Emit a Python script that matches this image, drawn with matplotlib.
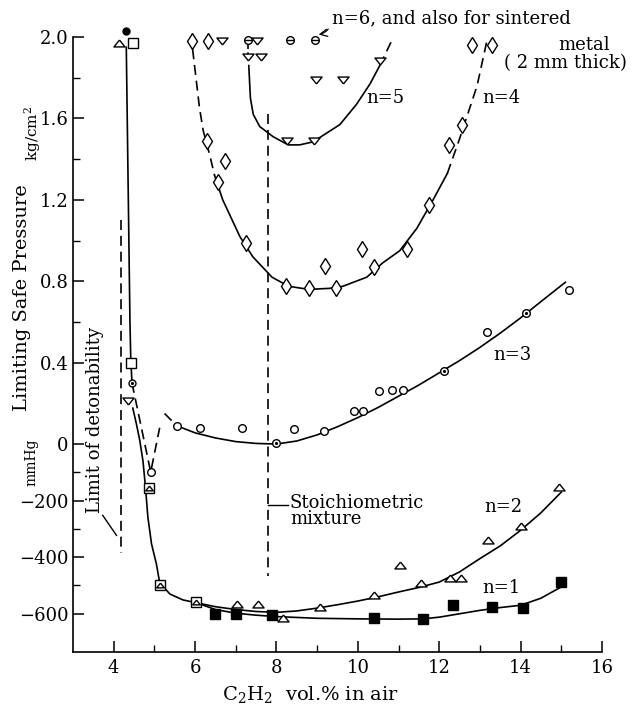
import matplotlib.pyplot as plt

plt.rcParams['font.family'] = ['DejaVu Serif']
plt.rcParams['mathtext.fontset'] = 'dejavuserif'

MMHG = 0.00139  # kg/cm2 per mmHg on the chart's pressure axis


def mm(vals):
    return [v * MMHG for v in vals]


# n=1 (filled squares), mmHg
n1_x = [6.5, 7.0, 7.9, 10.4, 11.6, 12.35, 13.3, 14.05, 15.0]
n1_y = [-600, -600, -605, -615, -617, -570, -575, -578, -487]
n1_cx = [6.03, 6.5, 7.0, 7.5, 8.0, 9.0, 10.0, 11.0, 11.6, 12.0, 12.5, 13.0, 13.5, 14.0, 14.5, 15.0]
n1_cy = [-561, -585, -598, -605, -610, -616, -618, -619, -618, -612, -600, -588, -578, -570, -545, -505]

# n=2 (triangles), mmHg
n2_x = [7.02, 7.54, 8.16, 9.07, 10.39, 11.03, 11.55, 12.26, 12.53, 13.2, 14.0, 14.95]
n2_y = [-564, -564, -614, -575, -533, -426, -490, -472, -472, -338, -291, -153]
n2_cx = [6.03, 6.5, 7.0, 7.5, 8.0, 8.5, 9.0, 9.5, 10.0, 10.5, 11.0, 11.5, 12.0, 12.5, 13.0, 13.5, 14.0, 14.5, 15.0]
n2_cy = [-561, -575, -585, -592, -595, -590, -580, -568, -555, -540, -523, -507, -488, -452, -405, -360, -305, -243, -170]

# n=3 (circles), kg/cm2
n3_x = [5.55, 6.13, 7.15, 7.98, 8.43, 9.16, 9.9, 10.12, 10.52, 10.84, 11.11, 12.11, 13.17, 14.13, 15.19]
n3_y = [0.09, 0.08, 0.08, 0.005, 0.075, 0.065, 0.16, 0.16, 0.26, 0.265, 0.265, 0.36, 0.55, 0.645, 0.755]
n3_dot_x = [7.98, 12.11, 14.13]
n3_dot_y = [0.005, 0.36, 0.645]
n3_cx = [5.55, 6.0, 6.5, 7.0, 7.5, 8.0, 8.5, 9.0, 9.5, 10.0, 10.5, 11.0, 11.5, 12.0, 12.5, 13.0, 13.5, 14.0, 14.5, 15.1]
n3_cy = [0.09, 0.055, 0.03, 0.012, 0.003, 0.0, 0.015, 0.045, 0.085, 0.13, 0.18, 0.235, 0.29, 0.35, 0.41, 0.475, 0.545, 0.62, 0.70, 0.795]
n3_dash_x = [5.25, 5.55]
n3_dash_y = [0.15, 0.09]

# n=4 (diamonds), kg/cm2
n4_x = [5.92, 6.31, 6.29, 6.73, 6.56, 7.25, 8.23, 8.8, 9.46, 9.19, 10.1, 10.39, 11.2, 11.75, 12.24, 12.56, 12.8, 13.29]
n4_y = [1.98, 1.98, 1.49, 1.39, 1.29, 0.99, 0.775, 0.765, 0.765, 0.875, 0.96, 0.87, 0.96, 1.175, 1.47, 1.57, 1.96, 1.96]
n4_cx = [5.94, 6.11, 6.2, 6.36, 6.48, 6.68, 7.1, 7.42, 7.89, 8.3, 8.8, 9.3, 9.63, 10.22, 10.61, 11.03, 11.45, 11.85, 12.2, 12.5, 12.93, 13.17]
n4_cy = [1.94, 1.65, 1.54, 1.42, 1.32, 1.2, 1.02, 0.92, 0.82, 0.775, 0.76, 0.765, 0.775, 0.82, 0.89, 0.95, 1.06, 1.2, 1.33, 1.5, 1.76, 1.98]

# n=5 (inverted triangles), kg/cm2
n5_x = [6.65, 7.51, 7.3, 7.63, 8.98, 9.63, 10.54, 8.26, 8.92]
n5_y = [1.98, 1.98, 1.90, 1.90, 1.79, 1.79, 1.88, 1.49, 1.49]
n5_cx = [7.32, 7.36, 7.43, 7.59, 7.92, 8.29, 8.57, 8.9, 9.56, 9.97, 10.3, 10.54]
n5_cy = [1.86, 1.70, 1.62, 1.56, 1.51, 1.47, 1.47, 1.485, 1.57, 1.67, 1.77, 1.86]
n5_dash_x = [10.54, 10.84]
n5_dash_y = [1.86, 1.985]

# n=6 / sintered metal, kg/cm2
n6_x = [7.3, 8.33, 8.94]
n6_y = [1.985, 1.985, 1.985]

# spike near the lower limit
spike_x = [4.31, 4.36, 4.40, 4.42, 4.45]
spike_y = [1.95, 1.2, 0.6, 0.42, 0.30]
drop_x = [4.47, 4.56, 4.64, 4.72, 4.78, 4.84, 4.93, 5.05, 5.13, 5.38, 5.70, 6.03]
drop_y = [127, 70, 14, -60, -150, -258, -353, -424, -490, -530, -551, -561]  # mmHg
vee_x = [4.45, 4.91, 5.13]
vee_y = [0.30, -99 * MMHG, 0.08]
boxtri_x = [4.86, 5.13, 6.03]
boxtri_y = [-154, -500, -560]  # mmHg

TRI_UP = [(0, 0.62), (-1, -0.62), (1, -0.62), (0, 0.62)]
TRI_DN = [(0, -0.62), (-1, 0.62), (1, 0.62), (0, -0.62)]

fig = plt.figure(figsize=(6.33, 7.04), dpi=100)
ax = fig.add_axes([0.1153, 0.0744, 0.8357, 0.873])

lw = 1.2
dash = (0, (6, 3.5))
mk = dict(ls='none', mec='black', mfc='white', mew=1.0, zorder=4, clip_on=False)

ax.plot(n1_cx, mm(n1_cy), color='black', lw=lw)
ax.plot(n2_cx, mm(n2_cy), color='black', lw=lw)
ax.plot(n3_cx, n3_cy, color='black', lw=lw)
ax.plot(n3_dash_x, n3_dash_y, color='black', lw=lw, ls=dash)
ax.plot(n4_cx[:5], n4_cy[:5], color='black', lw=lw, ls=dash)
ax.plot(n4_cx[4:19], n4_cy[4:19], color='black', lw=lw)
ax.plot(n4_cx[18:], n4_cy[18:], color='black', lw=lw, ls=dash)
ax.plot(n5_cx, n5_cy, color='black', lw=lw)
ax.plot(n5_dash_x, n5_dash_y, color='black', lw=lw, ls=dash)
ax.plot([7.3, 7.3], [1.965, 1.915], color='black', lw=lw, ls=(0, (3, 2)))
ax.plot(spike_x, spike_y, color='black', lw=lw)
ax.plot(drop_x, mm(drop_y), color='black', lw=lw)
ax.plot(vee_x, vee_y, color='black', lw=lw, ls=dash)

# stoichiometric mixture and detonability limit
ax.plot([7.8, 7.8], [1.62, -465 * MMHG], color='black', lw=lw, ls=dash)
ax.plot([4.18, 4.18], [1.1, -385 * MMHG], color='black', lw=lw, ls=dash)
ax.plot([3.73, 4.07], mm([-252, -323]), color='black', lw=1.0)
ax.plot([7.8, 8.28], mm([-217, -217]), color='black', lw=1.0)

ax.plot(n1_x, mm(n1_y), marker='s', ms=6.5, **dict(mk, mfc='black'))
ax.plot(n2_x, mm(n2_y), marker=TRI_UP, ms=8, **mk)
ax.plot(n3_x, n3_y, marker='o', ms=5.5, **mk)
ax.plot(n3_dot_x, n3_dot_y, marker='.', ms=2.5, ls='none', color='black', zorder=5)
ax.plot(n4_x, n4_y, marker='d', ms=7.8, **mk)
ax.plot(n5_x, n5_y, marker=TRI_DN, ms=8, **mk)
ax.plot(n6_x, n6_y, marker='o', ms=5.5, **mk)
ax.plot(n6_x, n6_y, marker='_', ms=5.5, mew=1.0, ls='none', color='black', zorder=5, clip_on=False)

ax.plot(boxtri_x, mm(boxtri_y), marker='s', ms=7.5, **mk)
ax.plot(boxtri_x, mm(boxtri_y), marker=TRI_UP, ms=5.5, ls='none', mec='black', mfc='none', mew=1.0, zorder=5)
ax.plot([4.42], [0.40], marker='s', ms=6.5, **mk)
ax.plot([4.45], [0.30], marker='o', ms=5, **mk)
ax.plot([4.45], [0.30], marker='.', ms=2.5, ls='none', color='black', zorder=5)
ax.plot([4.35], [0.21], marker=TRI_DN, ms=8, **mk)
ax.plot([4.91], [-99 * MMHG], marker='o', ms=5.5, **mk)
ax.plot([4.12], [1.97], marker=TRI_UP, ms=8, **mk)
ax.plot([4.47], [1.97], marker='s', ms=6.5, **mk)
ax.plot([4.30], [2.03], marker='o', ms=5, **dict(mk, mfc='black'))

fs = 13
ax.text(10.2, 1.70, 'n=5', fontsize=fs, va='center')
ax.text(13.07, 1.70, 'n=4', fontsize=fs, va='center')
ax.text(13.32, 0.44, 'n=3', fontsize=fs, va='center')
ax.text(13.12, -224 * MMHG, 'n=2', fontsize=fs, va='center')
ax.text(13.07, -508 * MMHG, 'n=1', fontsize=fs, va='center')
ax.text(8.33, -238 * MMHG, 'Stoichiometric\nmixture', fontsize=fs, va='center', linespacing=0.85)
ax.text(3.53, -0.34, 'Limit of detonability', fontsize=fs, rotation=90, ha='center', va='bottom')
ax.annotate('n=6, and also for sintered', xy=(8.97, 2.01), xytext=(9.36, 2.09),
            fontsize=fs, va='center', annotation_clip=False,
            arrowprops=dict(arrowstyle='->', color='black', lw=0.9, relpos=(0, 0.45),
                            connectionstyle='arc3,rad=-0.4', shrinkA=1, shrinkB=2))
ax.text(16.2, 1.96, 'metal', fontsize=fs, ha='right', va='center')
ax.text(16.62, 1.87, '( 2 mm thick)', fontsize=fs, ha='right', va='center')

ax.set_xlim(3, 16)
ax.set_ylim(-1.02, 2.0)
ax.spines['top'].set_visible(False)
ax.spines['right'].set_visible(False)
ax.spines['left'].set_linewidth(1.2)
ax.spines['bottom'].set_linewidth(1.2)

ax.set_xticks(range(4, 17, 2))
ax.set_xticks(range(5, 16, 2), minor=True)
ax.set_yticks(mm([-600, -400, -200]) + [0, 0.4, 0.8, 1.2, 1.6, 2.0])
ax.set_yticklabels(['\u2212600', '\u2212400', '\u2212200', '0', '0.4', '0.8', '1.2', '1.6', '2.0'])
ax.set_yticks(mm([-500, -300, -100]) + [0.6, 1.0, 1.4, 1.8], minor=True)
ax.tick_params(which='major', direction='in', length=8, width=1.1, labelsize=fs)
ax.tick_params(which='minor', direction='in', length=5, width=1.0)
ax.tick_params(axis='x', pad=5)
ax.tick_params(axis='y', pad=3)

fig.text(0.035, 0.577, 'Limiting Safe Pressure', fontsize=14, rotation=90, ha='center', va='center')
fig.text(0.051, 0.811, 'kg/cm$^2$', fontsize=11, rotation=90, ha='center', va='center')
fig.text(0.049, 0.344, 'mmHg', fontsize=10, rotation=90, ha='center', va='center')
fig.text(0.351, 0.013, 'C$_2$H$_2$  vol.% in air', fontsize=14, ha='left', va='center')

fig.savefig('out.png', dpi=100)
